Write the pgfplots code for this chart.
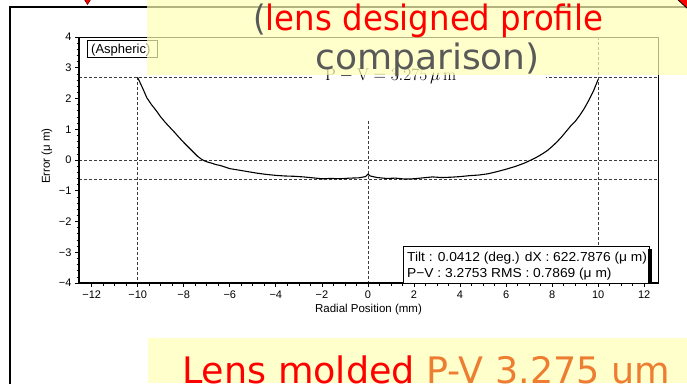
\documentclass[border=0pt]{standalone}
\usepackage{fontspec}
\usepackage{graphicx}
\usepackage{pgfplots}
\pgfplotsset{compat=1.18}
\newfontfamily\arial{Liberation Sans}
\newfontfamily\slidefont{DejaVu Sans}
\definecolor{slideyellow}{RGB}{255,255,182}
\definecolor{paleyellow}{RGB}{255,255,204}
\definecolor{slidegray}{RGB}{89,89,89}
\definecolor{slideorange}{RGB}{237,125,49}
\definecolor{gridgray}{RGB}{60,60,60}

% measured profile error (um) against radial position (mm)
\pgfplotstableread{
x y
-10.0 2.68
-9.8 2.36
-9.6 2.02
-9.4 1.80
-9.2 1.61
-9.0 1.40
-8.8 1.22
-8.6 1.06
-8.4 0.90
-8.2 0.73
-8.0 0.57
-7.8 0.42
-7.6 0.27
-7.4 0.12
-7.2 0.01
-7.0 -0.06
-6.8 -0.10
-6.6 -0.15
-6.4 -0.18
-6.2 -0.23
-6.0 -0.28
-5.6 -0.33
-5.2 -0.38
-4.8 -0.43
-4.4 -0.47
-4.0 -0.50
-3.6 -0.52
-3.2 -0.53
-2.8 -0.55
-2.4 -0.58
-2.0 -0.61
-1.6 -0.60
-1.2 -0.61
-0.8 -0.59
-0.4 -0.58
-0.1 -0.54
0.0 -0.46
0.1 -0.52
0.4 -0.57
0.8 -0.60
1.2 -0.59
1.6 -0.62
2.0 -0.61
2.4 -0.58
2.8 -0.55
3.2 -0.57
3.6 -0.56
4.0 -0.54
4.4 -0.51
4.8 -0.49
5.2 -0.45
5.6 -0.38
6.0 -0.30
6.4 -0.21
6.8 -0.10
7.0 -0.03
7.2 0.04
7.4 0.12
7.6 0.21
7.8 0.31
8.0 0.44
8.2 0.58
8.4 0.74
8.6 0.92
8.8 1.10
9.0 1.25
9.2 1.45
9.4 1.68
9.6 1.95
9.8 2.25
10.0 2.62
}\profile

\begin{document}
\begin{tikzpicture}[x=1pt,y=1pt]
\clip (0,0) rectangle (687,383);
\fill[white] (0,0) rectangle (687,383);
% slide image frame
\draw[line width=1.5pt] (10,-5) -- (10,376) -- (700,376);

\begin{axis}[
  at={(79pt,100pt)}, anchor=south west,
  width=579pt, height=246pt, scale only axis,
  xmin=-12.55, xmax=12.6, ymin=-4, ymax=4,
  clip=false,
  axis line style={line width=0.9pt},
  tick pos=left, tick align=outside,
  major tick length=4pt, minor tick length=2.5pt,
  every tick/.style={black, line width=0.7pt},
  xtick={-12,-10,...,12},
  xticklabels={−12,−10,−8,−6,−4,−2,0,2,4,6,8,10,12},
  ytick={-4,-3,...,4},
  yticklabels={−4,−3,−2,−1,0,1,2,3,4},
  minor x tick num=3, minor y tick num=4,
  ticklabel style={font=\arial\fontsize{11}{13}\selectfont},
  xlabel={Radial Position (mm)},
  ylabel={Error (μ m)},
  label style={font=\arial\fontsize{11.5}{13}\selectfont},
  xlabel style={at={(axis description cs:0.5,0)}, anchor=base, yshift=-29pt},
  ylabel style={at={([xshift=-32pt]axis description cs:0,0.516)}, anchor=center},
]
% reference lines
\addplot[gridgray, dash pattern=on 3pt off 2pt, line width=0.6pt] coordinates {(-12.55,2.7) (12.6,2.7)};
\addplot[gridgray, dash pattern=on 3pt off 2pt, line width=0.6pt] coordinates {(-12.55,0) (12.6,0)};
\addplot[gridgray, dash pattern=on 3pt off 2pt, line width=0.6pt] coordinates {(-12.55,-0.62) (12.6,-0.62)};
\addplot[gridgray, dash pattern=on 3pt off 2pt, line width=0.6pt] coordinates {(-10,2.7) (-10,-4)};
\addplot[gridgray, dash pattern=on 3pt off 2pt, line width=0.6pt] coordinates {(10,4) (10,-4)};
\addplot[gridgray, dash pattern=on 3pt off 2pt, line width=0.6pt] coordinates {(0,1.27) (0,-4)};
% profile
\addplot[black, line width=1.1pt] table[x=x, y=y] {\profile};
% heavy left and bottom axis lines
\draw[line width=2.8pt] (rel axis cs:0,1) -- (rel axis cs:0,0) -- (rel axis cs:1,0);
\end{axis}

% plot annotations
\draw[fill=white, line width=0.8pt] (87,326) rectangle (157,343);
\node[anchor=base west, inner sep=0, font=\arial\fontsize{13}{15}\selectfont] at (91,329) {(Aspheric)};
\fill[white] (313,293) rectangle (546,325);
\node[anchor=base west, inner sep=0, font=\fontsize{17}{20}\selectfont] at (325,302) {$\mathrm{P}-\mathrm{V}=3.275\,\mu\,\mathrm{m}$};
\draw[fill=white, line width=0.8pt] (403,100) rectangle (649,137);
\fill[black] (648,100) rectangle (651.5,134);
\node[anchor=base west, inner sep=0, font=\arial\fontsize{13}{15}\selectfont] at (407,122) {\scalebox{1.06}[1]{Tilt : 0.0412 (deg.) dX : 622.7876 (μ m)}};
\node[anchor=base west, inner sep=0, font=\arial\fontsize{13}{15}\selectfont] at (407,106) {\scalebox{1.06}[1]{P−V : 3.2753 RMS : 0.7869 (μ m)}};

% title banner
\fill[slideyellow, opacity=0.7] (147,308) rectangle (687,383);
\node[anchor=base west, inner sep=0, font=\slidefont\fontsize{35}{40}\selectfont] at (253,352) {\scalebox{0.926}[1]{\textcolor{slidegray}{(}\textcolor{red}{lens designed profile}}};
\node[anchor=base west, inner sep=0, font=\slidefont\fontsize{35}{40}\selectfont] at (315,313) {\scalebox{1.03}[1]{\textcolor{slidegray}{comparison)}}};

% caption banner
\fill[paleyellow] (148,0) rectangle (687,45);
\node[anchor=base west, inner sep=0, font=\slidefont\fontsize{36.5}{40}\selectfont] at (182,-0.5) {\textcolor{red}{Lens molded} \textcolor{slideorange}{P-V 3.275 um}};

% arrow tips
\filldraw[fill=red, draw=black!60!red, line width=0.6pt] (84,384) -- (87.5,378.5) -- (91,384) -- cycle;
\filldraw[fill=red, draw=black, line width=0.8pt] (677,384) -- (688,374) -- (688,384) -- cycle;
\end{tikzpicture}
\end{document}
